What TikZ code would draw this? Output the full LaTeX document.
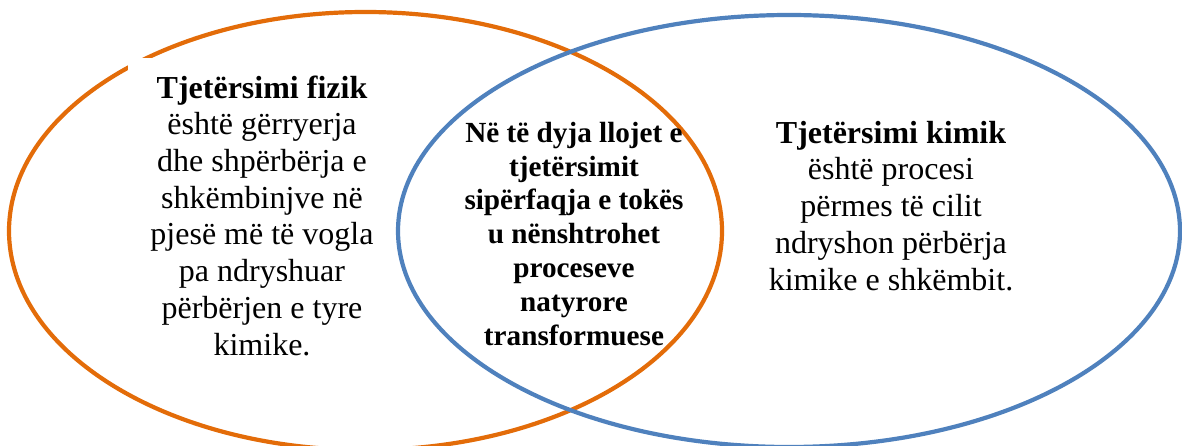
\documentclass[tikz,border=0pt]{standalone}
\usepackage{fontspec}
\setmainfont{Liberation Serif}
\definecolor{vorange}{HTML}{E36C09}
\definecolor{vblue}{HTML}{4F81BD}
\begin{document}
\begin{tikzpicture}[x=1pt,y=-1pt,
  ring/.style={line width=4.2pt},
  bigtext/.style={align=center,inner sep=0pt,anchor=base,font=\fontsize{32}{36.7}\selectfont},
  midtext/.style={align=center,inner sep=0pt,anchor=base,font=\bfseries\fontsize{29.2}{33.8}\selectfont}]
\useasboundingbox (0,0) rectangle (1182,446);
\draw[ring,vorange] (365.5,231) ellipse [x radius=356.5pt, y radius=219pt];
\fill[white] (128,58) rectangle (392,385);
\draw[ring,vblue] (789,231) ellipse [x radius=391pt, y radius=216pt];
\node[bigtext] (fizik) at (262,355) {\textbf{Tjetërsimi fizik}\\është gërryerja\\dhe shpërbërja e\\shkëmbinjve në\\pjesë më të vogla\\pa ndryshuar\\përbërjen e tyre\\kimike.};
\node[midtext] (both) at (574,345) {Në të dyja llojet e\\tjetërsimit\\sipërfaqja e tokës\\u nënshtrohet\\proceseve\\natyrore\\transformuese};
\node[bigtext] (kimik) at (891,290) {\textbf{Tjetërsimi kimik}\\është procesi\\përmes të cilit\\ndryshon përbërja\\kimike e shkëmbit.};
\end{tikzpicture}
\end{document}
